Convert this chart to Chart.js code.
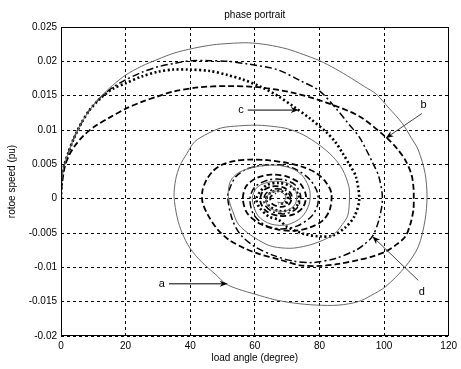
<!DOCTYPE html>
<html>
<head>
<meta charset="utf-8">
<script src="https://cdn.jsdelivr.net/npm/chart.js@4"></script>
<style>
  html, body { margin: 0; padding: 0; background: #fff; }
  canvas { display: block; }
</style>
</head>
<body>
<canvas id="phaseChart" width="461" height="369"></canvas>
<script>
// Phase portrait: load angle (x) vs rotor speed (y)

// curve a - thin grey solid
const curveA = [
  [0,0],[0.2,0.0027],[0.8,0.0045],[2.2,0.0066],[4,0.0088],[6.3,0.011],[9,0.013],[12.4,0.0149],
  [16,0.0165],[20,0.018],[25,0.0193],[30,0.0203],[35,0.0212],[41,0.0219],[47,0.0224],[52,0.0226],
  [58,0.0227],[64,0.0224],[70,0.0218],[75,0.021],[80,0.0201],[85,0.0189],[90,0.0175],[94,0.0163],
  [97.4,0.0153],[101.5,0.0132],[105.6,0.011],[108.5,0.0088],[110.6,0.0071],[112.7,0.0037],[113.3,0.0003],
  [112.7,-0.0031],[110.6,-0.007],[106.6,-0.0099],[100.5,-0.0128],[96,-0.0141],[92,-0.015],[86,-0.0155],
  [79,-0.0155],[72,-0.0152],[66,-0.0147],[60,-0.0139],[55,-0.0132],[51,-0.0124],[48,-0.0111],
  [43.5,-0.0092],[39.9,-0.0072],[37.5,-0.005],[36,-0.0028],[35,0.0003],[35.5,0.0028],[36.8,0.0048],
  [39,0.0066],[41.4,0.0083],[45.5,0.0095],[49.6,0.0103],[55,0.0106],[60.8,0.0107],[66,0.0105],[70,0.0102],
  [75,0.0093],[80,0.0078],[84.2,0.0061],[87.2,0.0042],[89.1,0.0018],[89.3,0.0001],[88.8,-0.0024],
  [87,-0.0038],[84.2,-0.0053],[78,-0.0066],[72,-0.0072],[67,-0.0071],[63.8,-0.0067],[58.7,-0.0053],
  [55,-0.0038],[53.6,-0.0024],[51.8,0.0003],[52.4,0.0025],[55,0.0038],[60,0.0046],[66,0.0049],
  [71.5,0.0044],[75,0.0032],[77,0.0012],[76.8,-0.0008],[74.5,-0.0027],[70,-0.0038],[65,-0.0037],
  [61,-0.0025],[59.2,0],[60.8,0.0017],[65.3,0.0025],[70,0.0023],[72.8,0.001],[72.5,-0.0008],
  [69.5,-0.0018],[65.5,-0.0016],[63.5,-0.0005],[64.5,0.0008],[67.5,0.0011],[69.5,0.0004],
  [68.8,-0.0006],[67,-0.0005]
];

// curve b - dashed
const curveB = [
  [0,0],[0.2,0.0017],[1.2,0.0047],[2.5,0.0063],[4.3,0.0077],[7,0.0092],[10.4,0.0105],[15,0.0118],
  [20,0.0131],[25,0.0141],[30,0.0149],[34.8,0.0156],[42.4,0.0162],[51.6,0.0164],[61.8,0.0162],
  [72,0.0154],[82.1,0.014],[92.3,0.012],[100.5,0.009],[104,0.0073],[106.6,0.0056],[108.5,0.0035],
  [109.1,0.0017],[109.2,0],[109.1,-0.0016],[108.2,-0.0036],[106.6,-0.0055],[103.5,-0.0068],
  [100.5,-0.0077],[96.5,-0.0084],[92.3,-0.0089],[86,-0.0095],[80,-0.0098],[74,-0.0097],[67.9,-0.0089],
  [61,-0.008],[56.7,-0.0072],[52,-0.006],[48.5,-0.0045],[45.5,-0.0024],[43.8,-0.0005],[43.8,0.0012],
  [45,0.0027],[47,0.004],[49.6,0.0049],[54,0.0055],[58.7,0.0057],[64,0.0056],[70,0.0052],[75,0.0046],
  [79.1,0.0037],[82,0.0024],[83.7,0.0008],[83.2,-0.0016],[81,-0.0032],[77,-0.0042],[72,-0.0047],
  [66,-0.0044],[61,-0.0035],[57.5,-0.002],[56.3,0],[57.3,0.0018],[60.5,0.003],[65,0.0035],[70,0.0032],
  [74,0.0022],[75.8,0.0005],[75,-0.0012],[72,-0.0023],[67.5,-0.0025],[63.5,-0.0018],[61.7,-0.0004],
  [62.5,0.0011],[65.5,0.0018],[69,0.0016],[71.3,0.0006],[70.8,-0.0007],[68.2,-0.0012],[65.5,-0.0008],
  [64.8,0.0002],[66.5,0.0008]
];

// curve c - dotted
const curveC = [
  [0,0],[0.2,0.0027],[0.8,0.0045],[2.2,0.0066],[4,0.0088],[6.3,0.011],[9,0.013],[12.4,0.0147],
  [16,0.016],[20,0.0168],[25,0.0178],[30.2,0.0185],[34.8,0.0188],[39.4,0.0188],[46,0.0186],
  [51.6,0.018],[56,0.0174],[61.8,0.0163],[67,0.015],[72,0.0134],[77,0.0117],[82.1,0.0097],
  [85,0.0082],[87.2,0.0066],[89.5,0.0048],[91.3,0.0032],[92.3,-0.0002],[90.8,-0.0026],[88,-0.0042],
  [84,-0.0054],[80,-0.0055],[75,-0.0051],[70,-0.0041],[67.4,-0.0031],[64.3,-0.0026],[61.3,-0.0012],
  [60.5,0],[61.8,0.0011],[63.8,0.002],[67.4,0.0023],[71.2,0.0018],[73.5,0.0005],[73.4,-0.0008],
  [71,-0.0016],[67.5,-0.0018],[64.5,-0.0011],[63.5,0],[65,0.0009],[68,0.0011],[70.2,0.0004],
  [69.5,-0.0006],[67.2,-0.0007]
];

// curve d - dash-dot
const curveD = [
  [0,0],[0.2,0.0027],[0.8,0.0045],[2.2,0.0066],[4,0.0088],[6.3,0.011],[9,0.013],[12.4,0.0148],
  [16,0.0162],[20,0.0173],[25,0.0184],[30,0.0192],[35,0.0197],[40.4,0.0201],[46,0.0201],[51.6,0.02],
  [58,0.0196],[66.9,0.0188],[74,0.0172],[80,0.0157],[85.2,0.0131],[88.5,0.0112],[92.3,0.009],
  [94.4,0.0072],[96.5,0.0052],[98.4,0.0032],[99.5,0],[98.4,-0.0031],[96.4,-0.0055],[93.5,-0.0068],
  [91.3,-0.0075],[85,-0.0087],[78,-0.0093],[72,-0.0091],[66,-0.0083],[60,-0.007],[55.5,-0.0052],
  [53,-0.003],[51.6,0.0003],[52.5,0.0018],[54.1,0.0032],[57,0.0042],[60.2,0.0047],[64,0.0049],
  [68.4,0.0049],[73,0.0042],[77,0.0028],[79.3,0.001],[79.5,-0.0008],[77.5,-0.0026],[73,-0.004],
  [68,-0.0044],[63,-0.0038],[59.5,-0.0022],[58.5,0],[60,0.0017],[64,0.0027],[68.5,0.0028],
  [72.5,0.002],[74.2,0.0003],[73,-0.0014],[69.5,-0.0022],[65.5,-0.0019],[63,-0.0008],[63.2,0.0006],
  [66,0.0014],[69.5,0.0012],[71,0.0002],[69.8,-0.0008]
];

// axis ticks
const xTicks = [0, 20, 40, 60, 80, 100, 120];
const yTicks = [-0.02, -0.015, -0.01, -0.005, 0, 0.005, 0.01, 0.015, 0.02, 0.025];

// curve labels and their arrows (data coordinates)
const labelText = ['a', 'b', 'c', 'd'];
const labelPos = [[31.2, -0.0124], [112.2, 0.0137], [55.7, 0.0129], [111.7, -0.0136]];
const arrowFrom = [[33.4, -0.0124], [111.7, 0.0124], [57.8, 0.0129], [110.6, -0.0119]];
const arrowTo = [[51.6, -0.0124], [100.5, 0.0088], [73.6, 0.0129], [96.4, -0.0055]];

const FONT = 'Liberation Sans, Arial, Helvetica, sans-serif';

function toPoints(arr) {
  return arr.map(p => ({ x: p[0], y: p[1] }));
}

function arrow(ctx, x1, y1, x2, y2, color) {
  const ang = Math.atan2(y2 - y1, x2 - x1);
  const len = 8, half = 3;
  ctx.strokeStyle = color;
  ctx.lineWidth = 1;
  ctx.setLineDash([]);
  ctx.beginPath();
  ctx.moveTo(x1, y1);
  ctx.lineTo(x2 - Math.cos(ang) * 4, y2 - Math.sin(ang) * 4);
  ctx.stroke();
  ctx.fillStyle = '#000';
  ctx.beginPath();
  ctx.moveTo(x2, y2);
  ctx.lineTo(x2 - len * Math.cos(ang) + half * Math.sin(ang), y2 - len * Math.sin(ang) - half * Math.cos(ang));
  ctx.lineTo(x2 - len * 0.7 * Math.cos(ang), y2 - len * 0.7 * Math.sin(ang));
  ctx.lineTo(x2 - len * Math.cos(ang) - half * Math.sin(ang), y2 - len * Math.sin(ang) + half * Math.cos(ang));
  ctx.closePath();
  ctx.fill();
}

// box, title, labels and arrows
const decorations = {
  id: 'decorations',
  afterDatasetsDraw(chart) {
    const ctx = chart.ctx;
    const area = chart.chartArea;
    const xs = chart.scales.x, ys = chart.scales.y;
    ctx.save();

    ctx.strokeStyle = '#000';
    ctx.lineWidth = 1;
    ctx.setLineDash([]);
    ctx.strokeRect(Math.round(area.left) + 0.5, Math.round(area.top) + 0.5,
      Math.round(area.right - area.left) - 1, Math.round(area.bottom - area.top) - 1);

    ctx.fillStyle = '#000';
    ctx.font = '10px ' + FONT;
    ctx.textAlign = 'center';
    ctx.textBaseline = 'middle';
    ctx.fillText('phase portrait', (area.left + area.right) / 2, 15);

    for (let i = 0; i < labelText.length; i++) {
      const color = i === 0 || i === 2 ? '#000' : '#444';
      arrow(ctx,
        xs.getPixelForValue(arrowFrom[i][0]), ys.getPixelForValue(arrowFrom[i][1]),
        xs.getPixelForValue(arrowTo[i][0]), ys.getPixelForValue(arrowTo[i][1]), color);
      ctx.fillStyle = '#000';
      ctx.font = '11px ' + FONT;
      ctx.fillText(labelText[i], xs.getPixelForValue(labelPos[i][0]), ys.getPixelForValue(labelPos[i][1]));
    }
    ctx.restore();
  }
};

const ctx = document.getElementById('phaseChart');

new Chart(ctx, {
  type: 'scatter',
  data: {
    datasets: [{
      label: 'a',
      data: toPoints(curveA),
      showLine: true,
      borderColor: '#6a6a6a',
      borderWidth: 1,
      tension: 0.3
    }, {
      label: 'b',
      data: toPoints(curveB),
      showLine: true,
      borderColor: '#000',
      borderWidth: 1.8,
      borderDash: [6, 3],
      tension: 0.3
    }, {
      label: 'c',
      data: toPoints(curveC),
      showLine: true,
      borderColor: '#000',
      borderWidth: 2.6,
      borderDash: [2, 2.5],
      tension: 0.3
    }, {
      label: 'd',
      data: toPoints(curveD),
      showLine: true,
      borderColor: '#000',
      borderWidth: 1.5,
      borderDash: [7, 3, 2, 3],
      tension: 0.3
    }]
  },
  options: {
    responsive: false,
    animation: false,
    devicePixelRatio: 1,
    elements: { point: { radius: 0, hoverRadius: 0 } },
    layout: { padding: { top: 27, right: 7, left: 0, bottom: 0 } },
    plugins: {
      legend: { display: false },
      tooltip: { enabled: false },
      title: { display: false }
    },
    scales: {
      x: {
        type: 'linear',
        min: xTicks[0],
        max: xTicks[xTicks.length - 1],
        afterBuildTicks: (scale) => { scale.ticks = xTicks.map(v => ({ value: v })); },
        afterFit: (scale) => { scale.height = 33; },
        ticks: { color: '#000', font: { family: FONT, size: 10 }, padding: 4, maxRotation: 0 },
        grid: { color: '#000', lineWidth: 1, drawTicks: false },
        border: { display: false, dash: [3, 3] },
        title: {
          display: true,
          text: 'load angle (degree)',
          color: '#000',
          font: { family: FONT, size: 10 },
          padding: { top: 0, bottom: 5 }
        }
      },
      y: {
        type: 'linear',
        min: yTicks[0],
        max: yTicks[yTicks.length - 1],
        afterBuildTicks: (scale) => { scale.ticks = yTicks.map(v => ({ value: v })); },
        afterFit: (scale) => { scale.width = 61; },
        ticks: {
          color: '#000',
          font: { family: FONT, size: 10 },
          padding: 4,
          callback: (v) => String(parseFloat(Number(v).toFixed(3)))
        },
        grid: { color: '#000', lineWidth: 1, drawTicks: false },
        border: { display: false, dash: [3, 3] },
        title: {
          display: true,
          text: 'rotoe speed (pu)',
          color: '#000',
          font: { family: FONT, size: 10 },
          padding: { top: 6, bottom: 0 }
        }
      }
    }
  },
  plugins: [decorations]
});
</script>
</body>
</html>
